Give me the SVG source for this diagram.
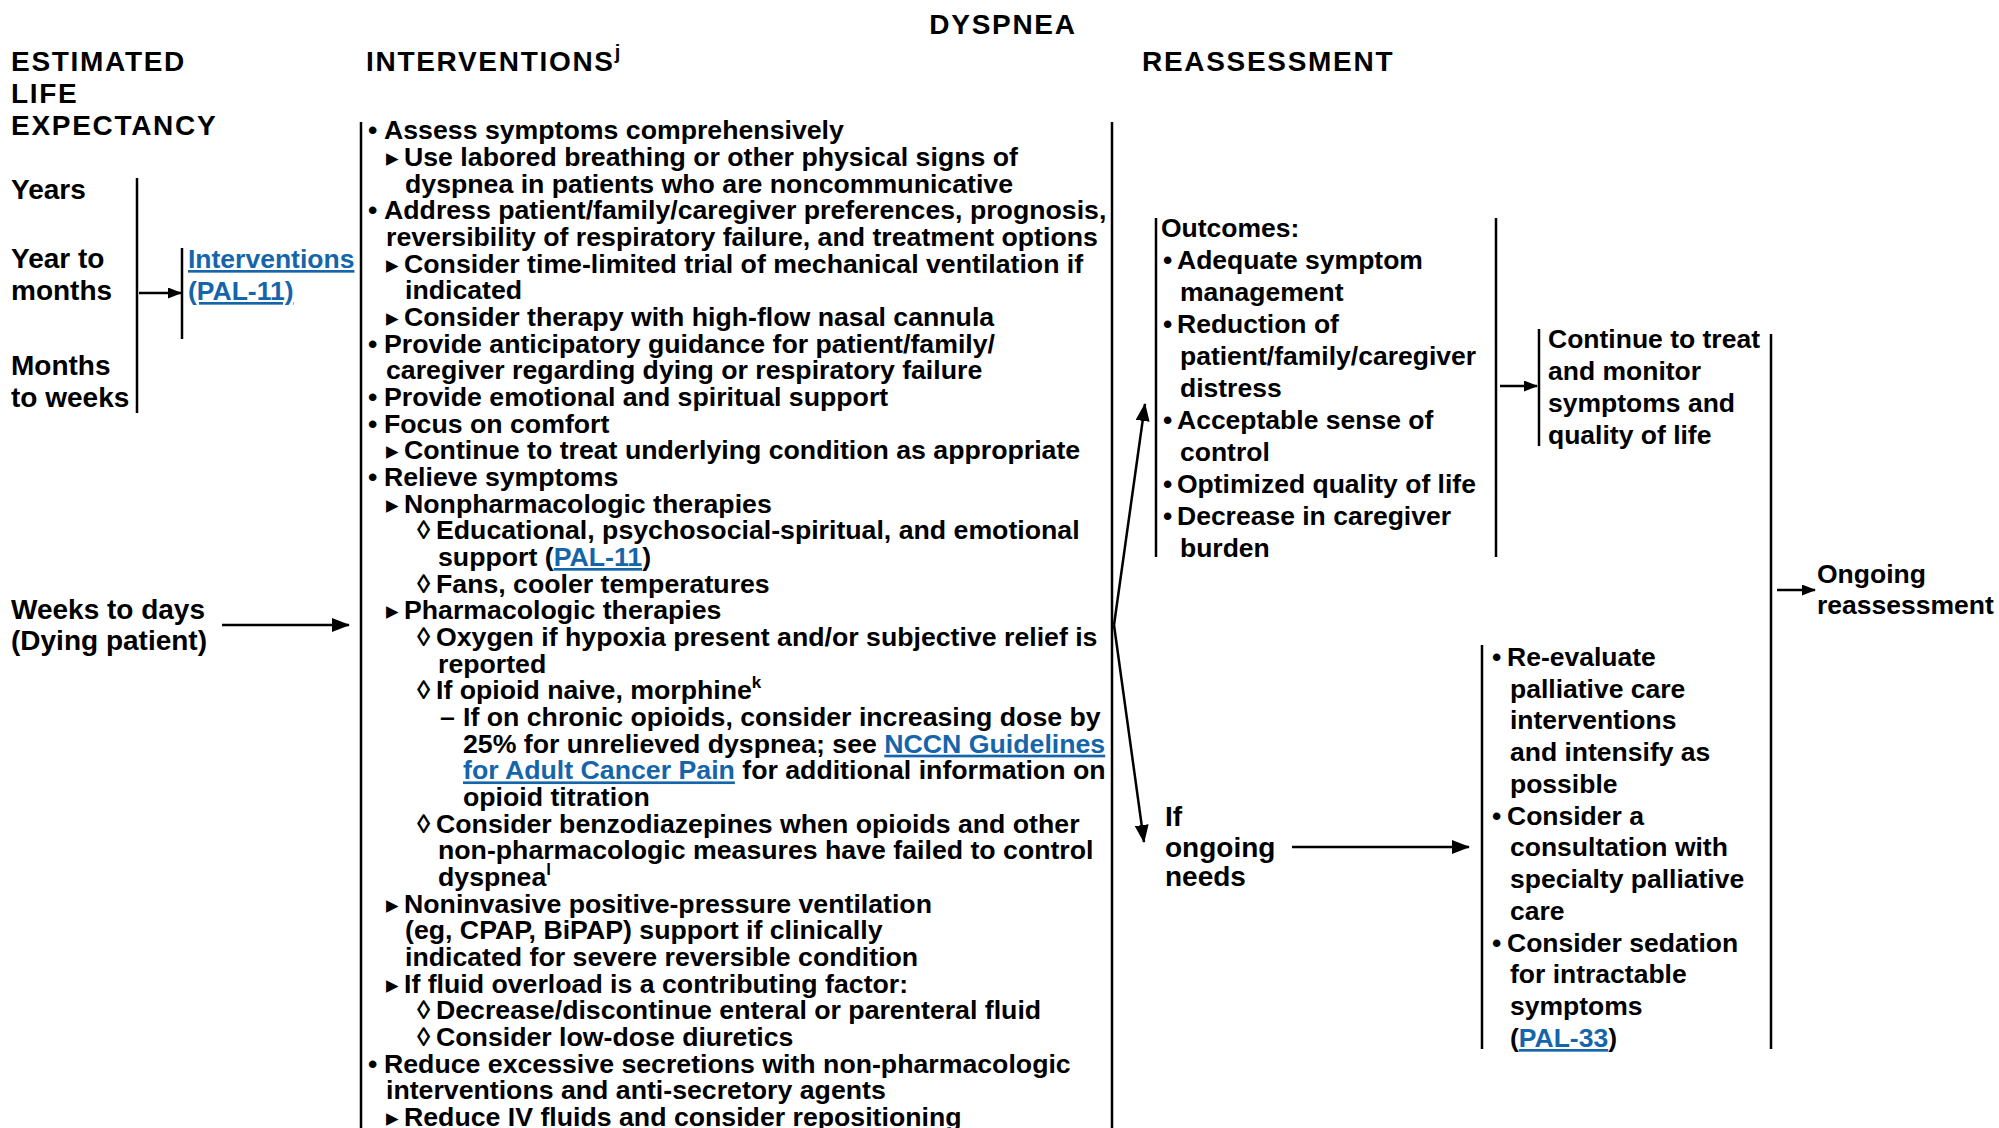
<svg xmlns="http://www.w3.org/2000/svg" width="1999" height="1128" viewBox="0 0 1999 1128">
<defs>
<style>
text { font-family: "Liberation Sans", Arial, "DejaVu Sans", sans-serif; font-weight: bold; font-size: 26.5px; fill: #000; }
.h { font-size: 28px; letter-spacing: 1.7px; }
.big { font-size: 28px; }
.iv text { font-size: 26.7px; }
.lk { fill: #1565aa; text-decoration: underline; }
.iv text.m { font-family: "DejaVu Sans", sans-serif; font-size: 25px; }
.sup { font-size: 17px; }
.ln { stroke: #000; stroke-width: 2.5; fill: none; }
.ar { marker-end: url(#ah); }
.ars { marker-end: url(#ahs); }
</style>
<marker id="ah" markerUnits="userSpaceOnUse" markerWidth="18" markerHeight="14" refX="17" refY="7" orient="auto"><path d="M0,0 L18,7 L0,14 z" fill="#000"/></marker>
<marker id="ahs" markerUnits="userSpaceOnUse" markerWidth="14" markerHeight="11" refX="13" refY="5.5" orient="auto"><path d="M0,0 L14,5.5 L0,11 z" fill="#000"/></marker>
</defs>
<rect width="1999" height="1128" fill="#fff"/>

<g id="headers">
<text class="h" x="1003" y="34" text-anchor="middle">DYSPNEA</text>
<text class="h" x="11" y="71">ESTIMATED</text>
<text class="h" x="11" y="103">LIFE</text>
<text class="h" x="11" y="135">EXPECTANCY</text>
<text class="h" x="366" y="71">INTERVENTIONS<tspan dy="-12" style="font-size:20px;letter-spacing:0">j</tspan></text>
<text class="h" x="1142" y="71">REASSESSMENT</text>
</g>

<g id="life-expectancy">
<line class="ln" x1="137" y1="178" x2="137" y2="413"/>
<text class="big" x="11" y="199">Years</text>
<text class="big" x="11" y="268">Year to</text>
<text class="big" x="11" y="300">months</text>
<text class="big" x="11" y="375">Months</text>
<text class="big" x="11" y="407">to weeks</text>
</g>

<g id="interventions-link">
<line class="ln" x1="182" y1="248" x2="182" y2="339"/>
<text x="188" y="268" class="lk">Interventions</text>
<text x="188" y="300" class="lk">(PAL-11)</text>
</g>

<g id="dying-patient">
<text class="big" x="11" y="619">Weeks to days</text>
<text class="big" x="11" y="650">(Dying patient)</text>
</g>

<g id="interventions" class="iv">
<line class="ln" x1="361" y1="122" x2="361" y2="1128"/>
<line class="ln" x1="1112" y1="122" x2="1112" y2="1128"/>
<text x="368" y="139.3">•</text><text x="384" y="139.3">Assess symptoms comprehensively</text>
<text class="m" x="386" y="166">▸</text><text x="404" y="166">Use labored breathing or other physical signs of</text>
<text x="405" y="192.6">dyspnea in patients who are noncommunicative</text>
<text x="368" y="219.3">•</text><text x="384" y="219.3">Address patient/family/caregiver preferences, prognosis,</text>
<text x="386" y="246">reversibility of respiratory failure, and treatment options</text>
<text class="m" x="386" y="272.6">▸</text><text x="404" y="272.6">Consider time-limited trial of mechanical ventilation if</text>
<text x="405" y="299.3">indicated</text>
<text class="m" x="386" y="326">▸</text><text x="404" y="326">Consider therapy with high-flow nasal cannula</text>
<text x="368" y="352.7">•</text><text x="384" y="352.7">Provide anticipatory guidance for patient/family/</text>
<text x="386" y="379.3">caregiver regarding dying or respiratory failure</text>
<text x="368" y="406">•</text><text x="384" y="406">Provide emotional and spiritual support</text>
<text x="368" y="432.7">•</text><text x="384" y="432.7">Focus on comfort</text>
<text class="m" x="386" y="459.3">▸</text><text x="404" y="459.3">Continue to treat underlying condition as appropriate</text>
<text x="368" y="486">•</text><text x="384" y="486">Relieve symptoms</text>
<text class="m" x="386" y="512.7">▸</text><text x="404" y="512.7">Nonpharmacologic therapies</text>
<text x="417" y="539.4">◊</text><text x="436" y="539.4">Educational, psychosocial-spiritual, and emotional</text>
<text x="438" y="566">support (<tspan class="lk">PAL-11</tspan>)</text>
<text x="417" y="592.7">◊</text><text x="436" y="592.7">Fans, cooler temperatures</text>
<text class="m" x="386" y="619.4">▸</text><text x="404" y="619.4">Pharmacologic therapies</text>
<text x="417" y="646">◊</text><text x="436" y="646">Oxygen if hypoxia present and/or subjective relief is</text>
<text x="438" y="672.7">reported</text>
<text x="417" y="699.4">◊</text><text x="436" y="699.4">If opioid naive, morphine<tspan class="sup" dy="-11">k</tspan></text>
<text x="440" y="726">–</text><text x="463" y="726">If on chronic opioids, consider increasing dose by</text>
<text x="463" y="752.7">25% for unrelieved dyspnea; see <tspan class="lk">NCCN Guidelines</tspan></text>
<text x="463" y="779.4"><tspan class="lk">for Adult Cancer Pain</tspan> for additional information on</text>
<text x="463" y="806">opioid titration</text>
<text x="417" y="832.7">◊</text><text x="436" y="832.7">Consider benzodiazepines when opioids and other</text>
<text x="438" y="859.4">non-pharmacologic measures have failed to control</text>
<text x="438" y="886.1">dyspnea<tspan class="sup" dy="-11">l</tspan></text>
<text class="m" x="386" y="912.7">▸</text><text x="404" y="912.7">Noninvasive positive-pressure ventilation</text>
<text x="405" y="939.4">(eg, CPAP, BiPAP) support if clinically</text>
<text x="405" y="966.1">indicated for severe reversible condition</text>
<text class="m" x="386" y="992.7">▸</text><text x="404" y="992.7">If fluid overload is a contributing factor:</text>
<text x="417" y="1019.4">◊</text><text x="436" y="1019.4">Decrease/discontinue enteral or parenteral fluid</text>
<text x="417" y="1046.1">◊</text><text x="436" y="1046.1">Consider low-dose diuretics</text>
<text x="368" y="1072.7">•</text><text x="384" y="1072.7">Reduce excessive secretions with non-pharmacologic</text>
<text x="386" y="1099.4">interventions and anti-secretory agents</text>
<text class="m" x="386" y="1126.1">▸</text><text x="404" y="1126.1">Reduce IV fluids and consider repositioning</text>
</g>

<g id="outcomes">
<line class="ln" x1="1156" y1="218" x2="1156" y2="557"/>
<line class="ln" x1="1496" y1="218" x2="1496" y2="557"/>
<text x="1161" y="237">Outcomes:</text>
<text x="1163" y="269">•</text><text x="1177" y="269">Adequate symptom</text>
<text x="1180" y="301">management</text>
<text x="1163" y="333">•</text><text x="1177" y="333">Reduction of</text>
<text x="1180" y="365">patient/family/caregiver</text>
<text x="1180" y="397">distress</text>
<text x="1163" y="429">•</text><text x="1177" y="429">Acceptable sense of</text>
<text x="1180" y="461">control</text>
<text x="1163" y="493">•</text><text x="1177" y="493">Optimized quality of life</text>
<text x="1163" y="525">•</text><text x="1177" y="525">Decrease in caregiver</text>
<text x="1180" y="557">burden</text>
</g>

<g id="continue-to-treat">
<line class="ln" x1="1539" y1="329" x2="1539" y2="446"/>
<text x="1548" y="348">Continue to treat</text>
<text x="1548" y="380">and monitor</text>
<text x="1548" y="412">symptoms and</text>
<text x="1548" y="444">quality of life</text>
</g>

<g id="ongoing-needs">
<text class="big" x="1165" y="826">If</text>
<text class="big" x="1165" y="857">ongoing</text>
<text class="big" x="1165" y="886">needs</text>
</g>

<g id="ongoing-needs-actions">
<line class="ln" x1="1482" y1="645" x2="1482" y2="1049"/>
<text x="1492" y="666">•</text><text x="1507" y="666">Re-evaluate</text>
<text x="1510" y="698">palliative care</text>
<text x="1510" y="729">interventions</text>
<text x="1510" y="761">and intensify as</text>
<text x="1510" y="793">possible</text>
<text x="1492" y="825">•</text><text x="1507" y="825">Consider a</text>
<text x="1510" y="856">consultation with</text>
<text x="1510" y="888">specialty palliative</text>
<text x="1510" y="920">care</text>
<text x="1492" y="952">•</text><text x="1507" y="952">Consider sedation</text>
<text x="1510" y="983">for intractable</text>
<text x="1510" y="1015">symptoms</text>
<text x="1510" y="1047">(<tspan class="lk">PAL-33</tspan>)</text>
</g>

<g id="ongoing-reassessment">
<text x="1817" y="583">Ongoing</text>
<text x="1817" y="614">reassessment</text>
</g>

<g id="connectors">
<line class="ln ars" x1="139" y1="293" x2="181" y2="293"/>
<line class="ln ar" x1="222" y1="625" x2="349" y2="625"/>
<line class="ln ar" x1="1114" y1="625" x2="1145" y2="404"/>
<line class="ln ar" x1="1114" y1="625" x2="1144" y2="842"/>
<line class="ln ar" x1="1292" y1="847" x2="1469" y2="847"/>
<line class="ln ars" x1="1500" y1="386" x2="1537" y2="386"/>
<line class="ln" x1="1771" y1="334" x2="1771" y2="1049"/>
<line class="ln ars" x1="1777" y1="590" x2="1815" y2="590"/>
</g>
</svg>
